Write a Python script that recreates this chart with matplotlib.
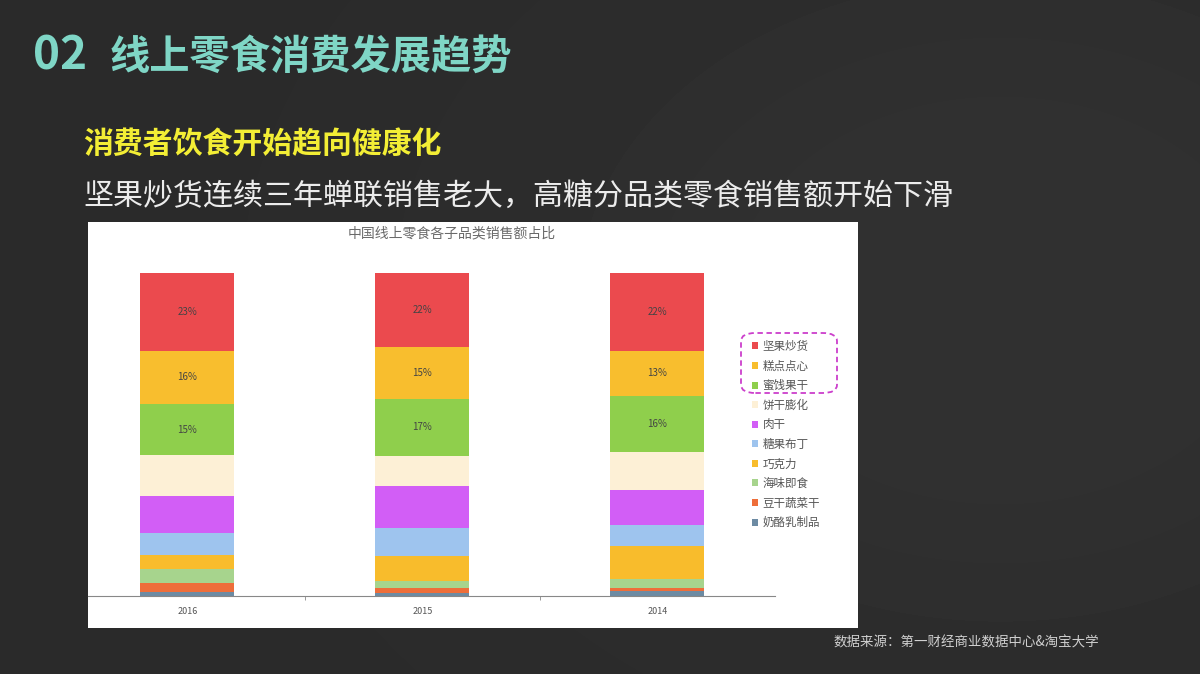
import numpy as np
import matplotlib
matplotlib.use('Agg')
import matplotlib.pyplot as plt
from matplotlib.patches import Patch, FancyBboxPatch

plt.rcParams['font.family'] = ['Noto Sans CJK SC', 'DejaVu Sans']

# data (share of bar height, %)
years = ['2016', '2015', '2014']
categories = ['坚果炒货', '糕点点心', '蜜饯果干', '饼干膨化', '肉干',
              '糖果布丁', '巧克力', '海味即食', '豆干蔬菜干', '奶酪乳制品']
shares = {
    '2016': [24.0, 16.7, 15.8, 12.4, 11.6, 6.7, 4.4, 4.3, 2.9, 1.2],
    '2015': [23.0, 15.9, 17.8, 9.3, 12.9, 8.8, 7.7, 2.0, 1.8, 0.8],
    '2014': [24.0, 14.1, 17.3, 11.8, 10.9, 6.4, 10.1, 2.8, 1.1, 1.5],
}
pct_labels = {
    '2016': ['23%', '16%', '15%'],
    '2015': ['22%', '15%', '17%'],
    '2014': ['22%', '13%', '16%'],
}
colors = ['#EB4A4E', '#F8BE2E', '#8FCF4C', '#FDF0D6', '#D25EF6',
          '#9EC4EE', '#F8BC2C', '#A7D48D', '#EE6E3A', '#6D8BA3']

W, H = 1200, 674
fig = plt.figure(figsize=(12, 6.74), dpi=100)
fig.patch.set_facecolor('#2b2b2b')


def fx(px):
    return px / W


def fy(py):
    return 1 - py / H


# chalkboard background
bg = fig.add_axes([0, 0, 1, 1])
yy, xx = np.mgrid[0:H, 0:W]
glow = np.exp(-(((xx - 1000) / 500) ** 2 + ((yy - 300) / 380) ** 2))
bg.imshow(0.165 + 0.03 * glow, cmap='gray', vmin=0, vmax=1,
          aspect='auto', extent=[0, W, H, 0])
bg.axis('off')

# headings
fig.text(fx(33), fy(57), '02', color='#7FD6C6', fontsize=33, fontweight='bold',
         va='center', ha='left')
fig.text(fx(110), fy(57), '线上零食消费发展趋势', color='#7FD6C6', fontsize=29,
         fontweight='bold', va='center', ha='left')
fig.text(fx(83), fy(144), '消费者饮食开始趋向健康化', color='#F3EE35', fontsize=21.5,
         fontweight='bold', va='center', ha='left')
fig.text(fx(83), fy(196), '坚果炒货连续三年蝉联销售老大，高糖分品类零食销售额开始下滑',
         color='#ECECEC', fontsize=21.6, va='center', ha='left')
fig.text(fx(833), fy(643), '数据来源：第一财经商业数据中心&淘宝大学', color='#D0D0D0',
         fontsize=9.7, va='center', ha='left')

# white chart panel
panel = fig.add_axes([fx(88), fy(628), fx(858) - fx(88), fy(222) - fy(628)])
panel.set_facecolor('white')
panel.set_xticks([])
panel.set_yticks([])
for s in panel.spines.values():
    s.set_visible(False)
fig.text(fx(452), fy(233), '中国线上零食各子品类销售额占比', color='#6A6A6A',
         fontsize=10, va='center', ha='center')

# bar plot
ax = fig.add_axes([fx(88), fy(596), fx(775) - fx(88), fy(273) - fy(596)])
ax.patch.set_alpha(0)
x = np.arange(len(years))
bottom = np.zeros(len(years))
for i in range(len(categories) - 1, -1, -1):
    vals = np.array([shares[y][i] for y in years])
    ax.bar(x, vals, width=0.4, bottom=bottom, color=colors[i], linewidth=0)
    if i < 3:
        for j, y in enumerate(years):
            ax.text(x[j], bottom[j] + vals[j] / 2, pct_labels[y][i],
                    ha='center', va='center', fontsize=7, color='#444444')
    bottom += vals

ax.set_xlim(-0.423, 2.5)
ax.set_ylim(0, 100)
ax.set_yticks([])
ax.set_xticks(x)
ax.set_xticklabels(years, fontsize=6.5, color='#555555')
ax.set_xticks([0.5, 1.5], minor=True)
ax.tick_params(axis='x', which='major', length=0, pad=8)
ax.tick_params(axis='x', which='minor', length=3, color='#888888')
for s in ['top', 'right', 'left']:
    ax.spines[s].set_visible(False)
ax.spines['bottom'].set_color('#888888')
ax.spines['bottom'].set_linewidth(0.8)

# legend
handles = [Patch(facecolor=c, edgecolor='none') for c in colors]
leg = fig.legend(handles, categories, loc='upper left',
                 bbox_to_anchor=(fx(752), fy(340)), frameon=False,
                 fontsize=8.3, handlelength=0.55, handleheight=0.55,
                 handletextpad=0.35, labelspacing=0.57, borderpad=0,
                 borderaxespad=0)
for t in leg.get_texts():
    t.set_color('#555555')

box = FancyBboxPatch((fx(741), fy(393)), fx(837) - fx(741), fy(333) - fy(393),
                     boxstyle='round,pad=0,rounding_size=0.012',
                     transform=fig.transFigure, fill=False,
                     edgecolor='#CC3FCC', linewidth=1.3, linestyle=(0, (3, 2)))
fig.add_artist(box)

fig.savefig('out.png', dpi=100, facecolor=fig.get_facecolor())
